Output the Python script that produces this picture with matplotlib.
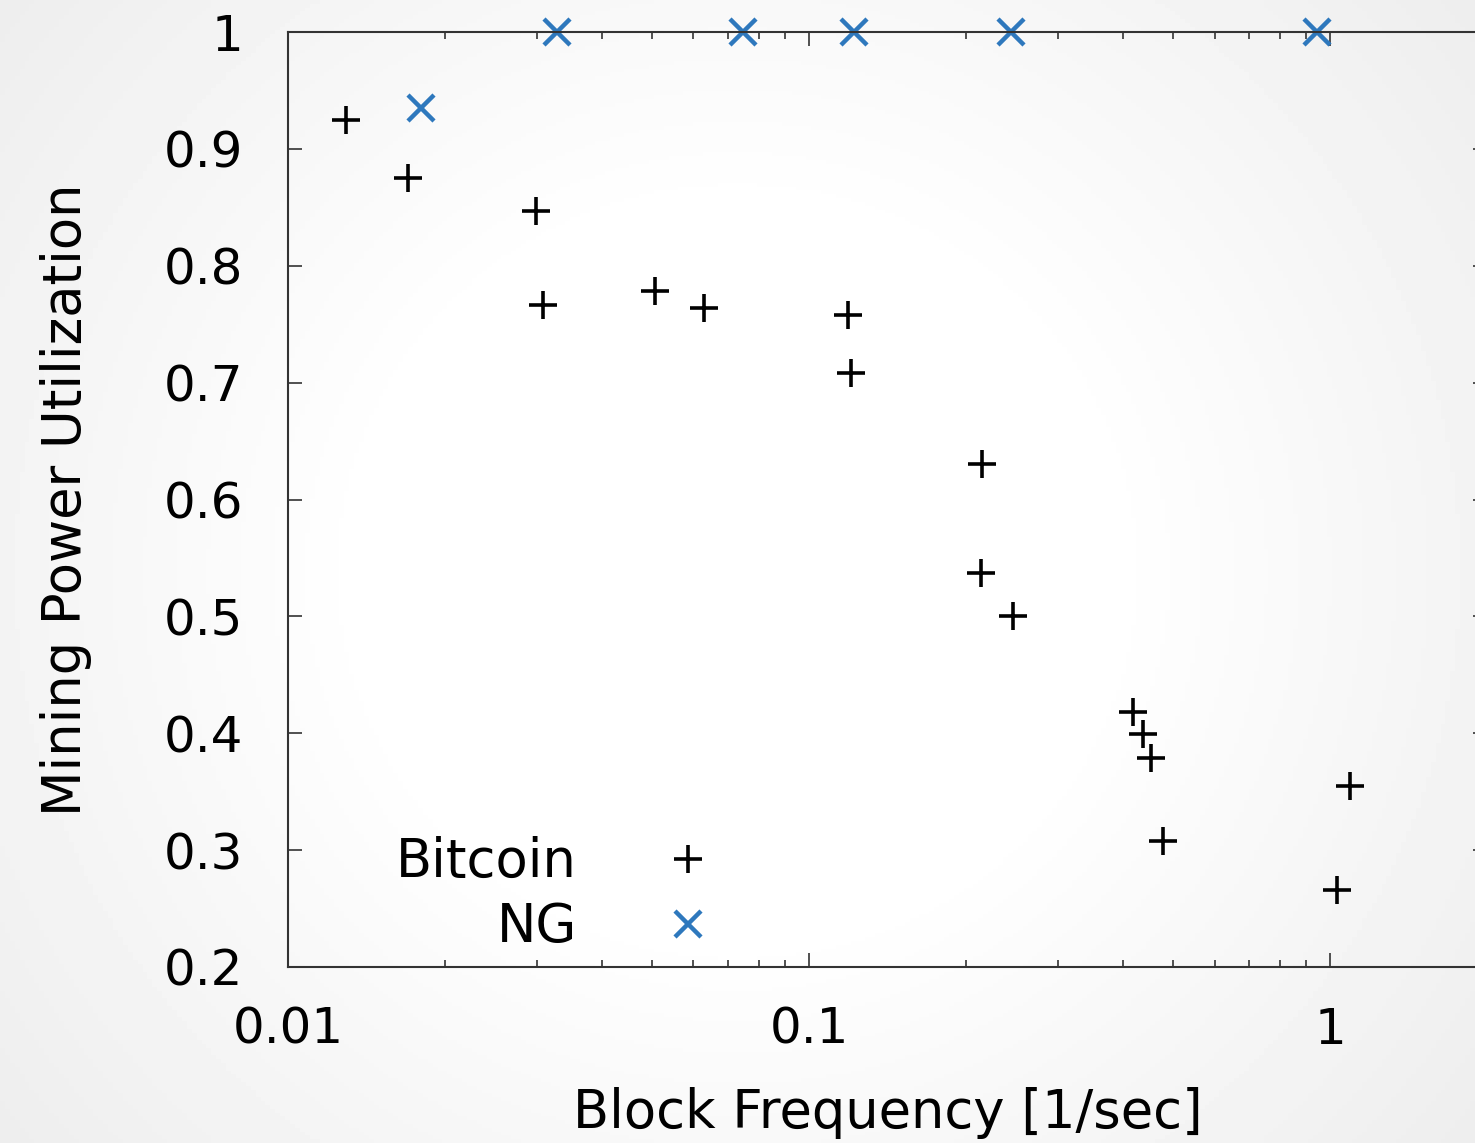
import numpy as np
import matplotlib
matplotlib.use("Agg")
import matplotlib.pyplot as plt

# values
bitcoin_freq = [0.0129, 0.0170, 0.0299, 0.0309, 0.0506, 0.0629, 0.1188, 0.1204,
                0.2148, 0.2138, 0.2464, 0.4188, 0.4375, 0.4532, 0.4779, 1.092, 1.031]
bitcoin_util = [0.925, 0.875, 0.847, 0.766, 0.778, 0.764, 0.758, 0.708,
                0.630, 0.537, 0.500, 0.418, 0.399, 0.379, 0.308, 0.355, 0.266]

ng_freq = [0.0180, 0.0328, 0.0747, 0.1220, 0.2442, 0.944]
ng_util = [0.935, 1.0, 1.0, 1.0, 1.0, 1.0]

y_ticks = [0.2, 0.3, 0.4, 0.5, 0.6, 0.7, 0.8, 0.9, 1.0]
y_tick_labels = ["0.2", "0.3", "0.4", "0.5", "0.6", "0.7", "0.8", "0.9", "1"]
x_ticks = [0.01, 0.1, 1]
x_tick_labels = ["0.01", "0.1", "1"]

plt.rcParams['font.family'] = ['DejaVu Sans']
TICK_FS = 36
LABEL_FS = 38

fig = plt.figure(figsize=(14.75, 11.43), dpi=100)

# soft radial background like the slide it was cut from
bg = fig.add_axes([0, 0, 1, 1], zorder=-10)
yy, xx = np.mgrid[0:1:300j, 0:1:300j]
r = np.sqrt((xx - 0.5) ** 2 + ((yy - 0.5) * 0.8) ** 2)
shade = 1.0 - 0.08 * np.clip((r - 0.25) / 0.45, 0, 1)
bg.imshow(shade, cmap='gray', vmin=0, vmax=1, aspect='auto', extent=[0, 1, 0, 1])
bg.axis('off')

ax = fig.add_axes([288 / 1475, 176 / 1143, 1199 / 1475, 935 / 1143])
ax.set_facecolor('none')

ax.plot(bitcoin_freq, bitcoin_util, linestyle='none', marker='+', color='black',
        markersize=20, markeredgewidth=2.6, label='Bitcoin', clip_on=False)
ax.plot(ng_freq, ng_util, linestyle='none', marker='x', color='#2e78bd',
        markersize=19, markeredgewidth=3.2, label='NG', clip_on=False)

ax.set_xscale('log')
ax.set_xlim(0.01, 2)
ax.set_ylim(0.2, 1)
ax.set_xticks(x_ticks)
ax.set_xticklabels(x_tick_labels)
ax.set_yticks(y_ticks)
ax.set_yticklabels(y_tick_labels)

for side in ['left', 'bottom', 'top', 'right']:
    ax.spines[side].set_color('#333333')
    ax.spines[side].set_linewidth(1.5)

ax.tick_params(which='both', direction='in', top=True, right=True, colors='#333333',
               labelcolor='black', labelsize=TICK_FS)
ax.tick_params(axis='y', which='major', length=10, width=1.2, pad=32)
ax.tick_params(axis='x', which='major', length=10, width=1.2, pad=28)
ax.tick_params(which='minor', length=5, width=1.2)

ax.set_xlabel('Block Frequency [1/sec]', fontsize=LABEL_FS, labelpad=24)
ax.set_ylabel('Mining Power Utilization', fontsize=LABEL_FS, labelpad=52)

leg = ax.legend(loc='upper right', bbox_to_anchor=(0.36, 0.14), frameon=False,
                markerfirst=False, fontsize=LABEL_FS, handlelength=1.2, handletextpad=1.5,
                labelspacing=0.25, borderpad=0, borderaxespad=0)
for col in leg._legend_handle_box.get_children():
    col.align = 'right'

fig.savefig('out.png', dpi=100)
